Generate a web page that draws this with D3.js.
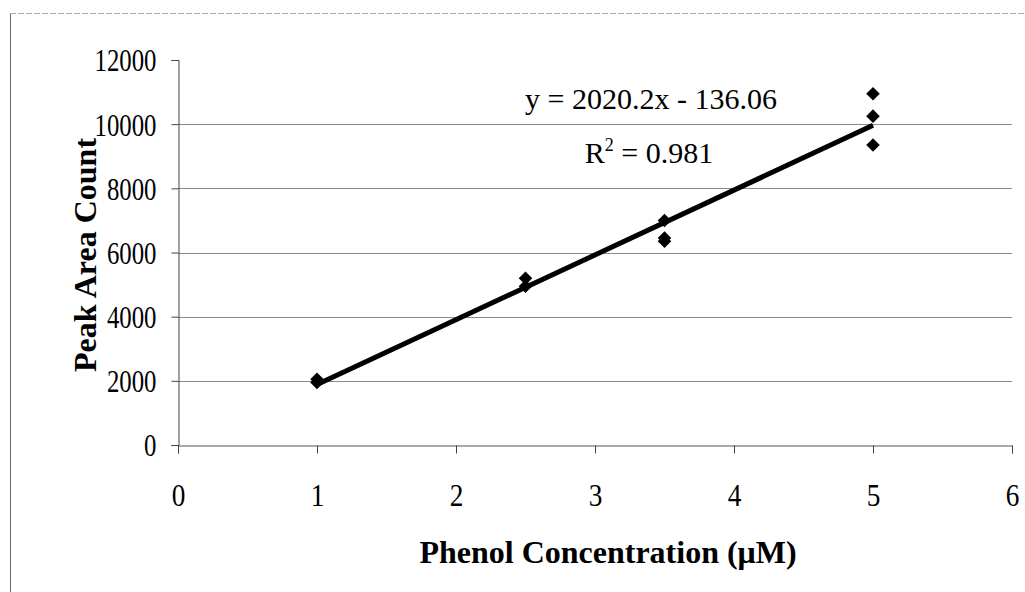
<!DOCTYPE html>
<html>
<head>
<meta charset="utf-8">
<script src="https://cdn.jsdelivr.net/npm/d3@7"></script>
<style>
  html, body { margin: 0; padding: 0; background: #fff; }
  svg { display: block; }
  text { font-family: "Liberation Serif", "Times New Roman", serif; fill: #000; }
</style>
</head>
<body>
<script>
// Phenol calibration data: concentration (µM) vs. peak area count
const concentration = [1, 1, 2.5, 2.5, 3.5, 3.5, 3.5, 5, 5, 5];
const peakArea = [1950, 2050, 5200, 4950, 7000, 6450, 6350, 10950, 10250, 9350];

// Linear trendline coefficients as printed on the chart
const slope = 2020.2;
const intercept = -136.06;
const rSquared = 0.981;

const xTicks = [0, 1, 2, 3, 4, 5, 6];
const yTicks = [0, 2000, 4000, 6000, 8000, 10000, 12000];

const W = 1025, H = 592;
const svg = d3.select("body").append("svg").attr("width", W).attr("height", H);

const x = d3.scaleLinear().domain([0, 6]).range([178, 1012]);
const y = d3.scaleLinear().domain([0, 12000]).range([445, 60]);

// outer frame (left and top edges)
svg.append("line").attr("x1", 10.5).attr("x2", 10.5).attr("y1", 13).attr("y2", H)
  .attr("stroke", "#666").attr("stroke-width", 1);
svg.append("line").attr("x1", 10).attr("x2", W).attr("y1", 13.5).attr("y2", 13.5)
  .attr("stroke", "#aaa").attr("stroke-width", 1).attr("stroke-dasharray", "6,2");

// horizontal gridlines
svg.append("g").selectAll("line").data(yTicks.filter(d => d > 0 && d < 12000)).join("line")
  .attr("x1", x(0)).attr("x2", x(6))
  .attr("y1", d => Math.round(y(d)) + 0.5).attr("y2", d => Math.round(y(d)) + 0.5)
  .attr("stroke", "#8a8a8a").attr("stroke-width", 1);

// y axis
const yAxis = svg.append("g").attr("transform", `translate(${x(0) + 0.5},0)`)
  .call(d3.axisLeft(y).tickValues(yTicks).tickSize(7).tickPadding(14).tickFormat(d3.format("d")));
yAxis.select(".domain").attr("stroke", "#444");
yAxis.selectAll(".tick line").attr("stroke", "#444");
yAxis.selectAll(".tick text").style("font-size", "31px").attr("dy", "0.35em")
  .attr("x", 0).attr("transform", "translate(-22,0) scale(0.8,1)");

// x axis
const xAxis = svg.append("g").attr("transform", `translate(0,${Math.round(y(0)) + 0.5})`)
  .call(d3.axisBottom(x).tickValues(xTicks).tickSize(8).tickPadding(30).tickFormat(d3.format("d")));
xAxis.select(".domain").attr("stroke", "#555");
xAxis.selectAll(".tick line").attr("stroke", "#444");
xAxis.selectAll(".tick text").style("font-size", "31px").attr("transform", "scale(0.88,1)");

// trendline over the data range
const x0 = d3.min(concentration), x1 = d3.max(concentration);
svg.append("line")
  .attr("x1", x(x0)).attr("y1", y(slope * x0 + intercept))
  .attr("x2", x(x1)).attr("y2", y(slope * x1 + intercept))
  .attr("stroke", "#000").attr("stroke-width", 5).attr("stroke-linecap", "butt");

// data markers (diamonds)
const diamond = d3.symbol().type(d3.symbolSquare).size(92);
svg.append("g").selectAll("path").data(concentration.map((c, i) => [c, peakArea[i]])).join("path")
  .attr("d", diamond)
  .attr("transform", d => `translate(${x(d[0])},${y(d[1])}) rotate(45)`)
  .attr("fill", "#000");

// equation and R² labels
svg.append("text").attr("x", 651).attr("y", 109).attr("text-anchor", "middle")
  .style("font-size", "30px").text(`y = ${slope}x - ${Math.abs(intercept)}`);
const r2 = svg.append("text").attr("x", 649).attr("y", 163).attr("text-anchor", "middle")
  .style("font-size", "30px");
r2.append("tspan").text("R");
r2.append("tspan").attr("dy", -12).style("font-size", "18px").text("2");
r2.append("tspan").attr("dy", 12).text(` = ${rSquared}`);

// axis titles
svg.append("text").attr("transform", "translate(96,255) rotate(-90)")
  .attr("text-anchor", "middle").style("font-size", "32px").style("font-weight", "bold")
  .text("Peak Area Count");
svg.append("text").attr("x", 608).attr("y", 563).attr("text-anchor", "middle")
  .style("font-size", "32px").style("font-weight", "bold")
  .text("Phenol Concentration (μM)");
</script>
</body>
</html>
